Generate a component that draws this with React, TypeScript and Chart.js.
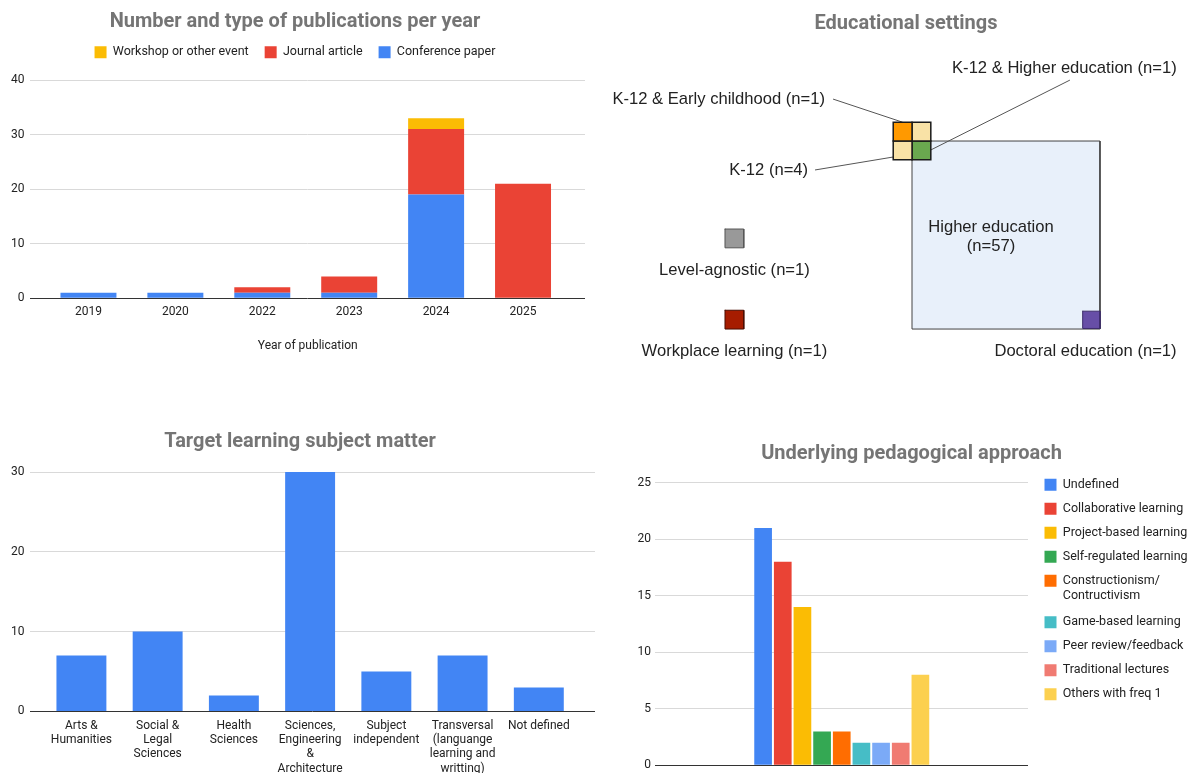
import React, { useEffect, useRef } from 'react';
import { Chart, registerables } from 'chart.js';

Chart.register(...registerables);

// ---------- Data: publications per year ----------
const years = ['2019', '2020', '2022', '2023', '2024', '2025'];
const conferencePapers = [1, 1, 1, 1, 19, 0];
const journalArticles = [0, 0, 1, 3, 12, 21];
const workshopPapers = [0, 0, 0, 0, 2, 0];

// ---------- Data: educational settings ----------
const settingNames = [
  'Higher education',
  'K-12',
  'K-12 & Early childhood',
  'K-12 & Higher education',
  'Level-agnostic',
  'Workplace learning',
  'Doctoral education',
];
const settingCounts = [57, 4, 1, 1, 1, 1, 1];

// ---------- Data: subject matter ----------
const subjectLabels = [
  ['Arts &', 'Humanities'],
  ['Social &', 'Legal', 'Sciences'],
  ['Health', 'Sciences'],
  ['Sciences,', 'Engineering', '&', 'Architecture'],
  ['Subject', 'independent'],
  ['Transversal', '(languange', 'learning and', 'writting)'],
  ['Not defined'],
];
const subjectCounts = [7, 10, 2, 30, 5, 7, 3];

// ---------- Data: pedagogical approach ----------
const approachLabels: (string | string[])[] = [
  'Undefined',
  'Collaborative learning',
  'Project-based learning',
  'Self-regulated learning',
  ['Constructionism/', 'Contructivism'],
  'Game-based learning',
  'Peer review/feedback',
  'Traditional lectures',
  'Others with freq 1',
];
const approachCounts = [21, 18, 14, 3, 3, 2, 2, 2, 8];

// ---------- Styles ----------
const FONT = 'Roboto, "Liberation Sans", Arial, sans-serif';
const BLUE = '#4285f4';
const RED = '#ea4335';
const YELLOW = '#fbbc04';
const approachColors = ['#4285f4', '#ea4335', '#fbbc04', '#34a853', '#ff6d01', '#46bdc6', '#7baaf7', '#f07b72', '#fcd04f'];
const TITLE_COLOR = '#757575';
const TEXT = '#222222';
const GRID = '#d9d9d9';
const ZERO = '#333333';

Chart.defaults.font.family = FONT;
Chart.defaults.color = TEXT;

const titleOpts = (text: string, top: number, bottom: number) => ({
  display: true,
  text,
  color: TITLE_COLOR,
  font: { family: FONT, size: 20, weight: 'bold' },
  padding: { top, bottom },
});

const yGrid = {
  color: (c: any) => (c.tick && c.tick.value === 0 ? ZERO : GRID),
  drawTicks: false,
};

const legendSpacer = (h: number) => ({
  id: 'legendSpacer',
  beforeLayout(chart: any) {
    const lg = chart.legend;
    if (lg && !lg._spaced) {
      const orig = lg.fit;
      lg.fit = function () {
        orig.call(this);
        this.height = h;
      };
      lg._spaced = true;
    }
  },
});

const legendNudge = (dx: number) => ({
  id: 'legendNudge',
  afterLayout(chart: any) {
    const lg = chart.legend;
    if (lg) {
      lg.left += dx;
      lg.right += dx;
    }
  },
});

const pts = (arr: number[]) => arr.map((v, i) => ({ x: i, y: v }));

function makePubChart() {
  return {
    type: 'bar',
    data: {
      datasets: [
        { label: 'Conference paper', data: pts(conferencePapers), backgroundColor: BLUE },
        { label: 'Journal article', data: pts(journalArticles), backgroundColor: RED },
        { label: 'Workshop or other event', data: pts(workshopPapers), backgroundColor: YELLOW },
      ],
    },
    options: {
      animation: false,
      responsive: false,
      layout: { padding: { left: 5, right: 2, top: 0, bottom: 0 } },
      datasets: { bar: { categoryPercentage: 1, barPercentage: 0.644 } },
      plugins: {
        title: titleOpts('Number and type of publications per year', 10, -4),
        legend: {
          position: 'top',
          reverse: true,
          labels: { boxWidth: 12, boxHeight: 12, padding: 16, color: TEXT, font: { family: FONT, size: 12.5 } },
        },
        tooltip: { enabled: false },
      },
      scales: {
        x: {
          type: 'linear',
          min: -0.667,
          max: 5.713,
          offset: false,
          stacked: true,
          grid: { display: false, drawTicks: false, offset: false },
          border: { display: false },
          ticks: {
            stepSize: 1,
            includeBounds: false,
            autoSkip: false,
            maxRotation: 0,
            padding: 7,
            color: TEXT,
            font: { family: FONT, size: 12 },
            callback: (v: number) => (Number.isInteger(v) && years[v] ? years[v] : ''),
          },
          title: {
            display: true,
            text: 'Year of publication',
            color: TEXT,
            font: { family: FONT, size: 12 },
            padding: { top: 12, bottom: 2 },
          },
        },
        y: {
          stacked: true,
          min: 0,
          max: 40,
          grid: yGrid,
          border: { display: false },
          ticks: { stepSize: 10, padding: 6, color: TEXT, font: { family: FONT, size: 12 } },
        },
      },
    },
    plugins: [legendSpacer(50)],
  };
}

// ---------- Educational settings diagram layout (cell units, origin at Higher education top-left) ----------
const sq = (x0: number, y0: number, s: number) => [
  { x: x0, y: y0 },
  { x: x0 + s, y: y0 },
  { x: x0 + s, y: y0 + s },
  { x: x0, y: y0 + s },
  { x: x0, y: y0 },
];

const settingBoxes = [
  { x: 0, y: 0, s: 10, fill: '#e8f0fa', stroke: '#434343', w: 1, order: 4 },
  { x: 9.08, y: 9.05, s: 0.92, fill: '#674ea7', stroke: '#3d2c6b', w: 1, order: 2 },
  { x: -1, y: -1, s: 1, fill: '#ff9900', stroke: '#1a1a1a', w: 1.5, order: 1 },
  { x: 0, y: -1, s: 1, fill: '#f9e2a6', stroke: '#1a1a1a', w: 1.5, order: 1 },
  { x: -1, y: 0, s: 1, fill: '#f9e2a6', stroke: '#1a1a1a', w: 1.5, order: 1 },
  { x: 0, y: 0, s: 1, fill: '#6aa84f', stroke: '#1a1a1a', w: 1.5, order: 1 },
  { x: -9.95, y: 4.68, s: 1, fill: '#999999', stroke: '#555555', w: 1, order: 2 },
  { x: -9.95, y: 9, s: 1, fill: '#a61c00', stroke: '#4a0d00', w: 1, order: 2 },
];

const leaderLines = [
  [{ x: -4.2, y: -2.23 }, { x: -0.5, y: -1.0 }],
  [{ x: 8.4, y: -3.24 }, { x: 0.95, y: 0.5 }],
  [{ x: -5.16, y: 1.54 }, { x: -1.0, y: 0.85 }],
];

const settingLabelLayout = [
  { i: 2, x: -4.63, y: -2.23, align: 'right' },
  { i: 3, x: 2.13, y: -3.88, align: 'left' },
  { i: 1, x: -5.53, y: 1.54, align: 'right' },
  { i: 4, x: -9.45, y: 6.86, align: 'center' },
  { i: 5, x: -9.45, y: 11.17, align: 'center' },
  { i: 6, x: 9.23, y: 11.17, align: 'center' },
];

const diagramLabels = {
  id: 'diagramLabels',
  afterDraw(chart: any) {
    const { ctx } = chart;
    const xs = chart.scales.x;
    const ys = chart.scales.y;
    ctx.save();
    ctx.font = '16.6px "Liberation Sans", Arial, sans-serif';
    ctx.fillStyle = TEXT;
    ctx.textBaseline = 'middle';
    for (const l of settingLabelLayout) {
      ctx.textAlign = l.align;
      ctx.fillText(`${settingNames[l.i]} (n=${settingCounts[l.i]})`, xs.getPixelForValue(l.x), ys.getPixelForValue(l.y));
    }
    // Higher education label inside its square
    ctx.textAlign = 'center';
    ctx.fillText(settingNames[0], xs.getPixelForValue(4.2), ys.getPixelForValue(4.57));
    ctx.fillText(`(n=${settingCounts[0]})`, xs.getPixelForValue(4.2), ys.getPixelForValue(5.6));
    ctx.restore();
  },
};

function makeSettingsChart() {
  const boxSets = settingBoxes.map((b) => ({
    data: sq(b.x, b.y, b.s),
    backgroundColor: b.fill,
    borderColor: b.stroke,
    borderWidth: b.w,
    fill: 'shape',
    pointRadius: 0,
    borderCapStyle: 'square',
    borderJoinStyle: 'miter',
    order: b.order,
  }));
  const lineSets = leaderLines.map((l) => ({
    data: l,
    borderColor: '#555555',
    borderWidth: 1,
    fill: false,
    pointRadius: 0,
    order: 3,
  }));
  return {
    type: 'line',
    data: { datasets: [...boxSets, ...lineSets] },
    options: {
      animation: false,
      responsive: false,
      layout: { padding: { left: 27, right: 0, top: 0, bottom: 0 } },
      elements: { line: { tension: 0 }, point: { radius: 0 } },
      plugins: {
        title: titleOpts('Educational settings', 12, 8),
        legend: { display: false },
        tooltip: { enabled: false },
      },
      scales: {
        x: { type: 'linear', display: false, min: -15.43, max: 14.79 },
        y: { type: 'linear', display: false, min: -5.16, max: 12.71, reverse: true },
      },
    },
    plugins: [diagramLabels],
  };
}

function makeSubjectChart() {
  return {
    type: 'bar',
    data: {
      datasets: [{ label: 'Count', data: pts(subjectCounts), backgroundColor: BLUE }],
    },
    options: {
      animation: false,
      responsive: false,
      layout: { padding: { left: 5, right: 0, top: 0, bottom: 0 } },
      datasets: { bar: { categoryPercentage: 1, barPercentage: 0.655 } },
      plugins: {
        title: titleOpts('Target learning subject matter', 10, 18),
        legend: { display: false },
        tooltip: { enabled: false },
      },
      scales: {
        x: {
          type: 'linear',
          min: -0.668,
          max: 6.737,
          offset: false,
          grid: { display: false, drawTicks: false, offset: false },
          border: { display: false },
          ticks: {
            stepSize: 1,
            includeBounds: false,
            autoSkip: false,
            maxRotation: 0,
            padding: 7,
            color: TEXT,
            font: { family: FONT, size: 12 },
            callback: (v: number) => (Number.isInteger(v) && subjectLabels[v] ? subjectLabels[v] : ''),
          },
        },
        y: {
          min: 0,
          max: 30,
          grid: yGrid,
          border: { display: false },
          ticks: { stepSize: 10, padding: 6, color: TEXT, font: { family: FONT, size: 12 } },
        },
      },
    },
  };
}

function makeApproachChart() {
  const baseGen = (Chart.defaults as any).plugins.legend.labels.generateLabels;
  return {
    type: 'bar',
    data: {
      labels: [''],
      datasets: approachCounts.map((v, i) => ({
        label: ([] as string[]).concat(approachLabels[i]).join(' '),
        data: [v],
        backgroundColor: approachColors[i],
      })),
    },
    options: {
      animation: false,
      responsive: false,
      layout: { padding: { left: 33, right: 0, top: 0, bottom: 0 } },
      datasets: { bar: { categoryPercentage: 0.475, barPercentage: 0.9 } },
      plugins: {
        title: titleOpts('Underlying pedagogical approach', 20, 1),
        legend: {
          position: 'right',
          align: 'start',
          fullSize: false,
          maxWidth: 162,
          labels: {
            boxWidth: 12,
            boxHeight: 12,
            padding: 11.5,
            color: TEXT,
            font: { family: FONT, size: 12.5 },
            generateLabels: (chart: any) =>
              baseGen(chart).map((it: any, i: number) => ({ ...it, text: approachLabels[i] })),
          },
        },
        tooltip: { enabled: false },
      },
      scales: {
        x: { display: false },
        y: {
          min: 0,
          max: 26.39,
          grid: yGrid,
          border: { display: false },
          ticks: { stepSize: 5, includeBounds: false, padding: 4.5, color: TEXT, font: { family: FONT, size: 12 } },
        },
      },
    },
    plugins: [legendNudge(5)],
  };
}

type PanelProps = { left: number; top: number; width: number; height: number; make: () => any };

function Panel({ left, top, width, height, make }: PanelProps) {
  const ref = useRef<HTMLCanvasElement>(null);
  useEffect(() => {
    const chart = new Chart(ref.current as HTMLCanvasElement, make());
    return () => chart.destroy();
  }, []);
  return (
    <div style={{ position: 'absolute', left, top, width, height }}>
      <canvas ref={ref} width={width} height={height} style={{ display: 'block', width, height }} />
    </div>
  );
}

export default function App() {
  return (
    <div
      style={{
        position: 'absolute',
        left: 0,
        top: 0,
        width: 1190,
        height: 773,
        overflow: 'hidden',
        background: '#ffffff',
      }}
    >
      <Panel left={0} top={0} width={587} height={355} make={makePubChart} />
      <Panel left={595} top={0} width={595} height={380} make={makeSettingsChart} />
      <Panel left={0} top={420} width={595} height={363} make={makeSubjectChart} />
      <Panel left={600} top={422} width={590} height={355} make={makeApproachChart} />
    </div>
  );
}
